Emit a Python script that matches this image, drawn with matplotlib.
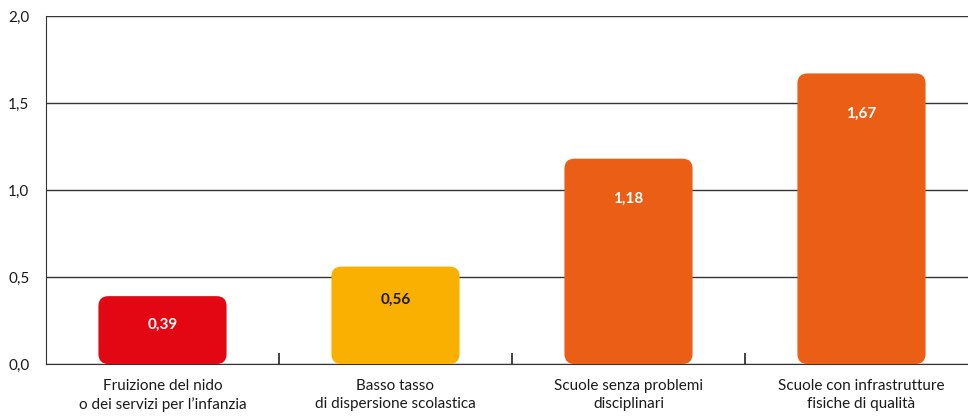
import numpy as np
import matplotlib
matplotlib.use('Agg')
from matplotlib import pyplot as plt
from matplotlib.patches import FancyBboxPatch

plt.rcParams['font.family'] = ['Lato', 'DejaVu Sans']

# data
categories = ['Fruizione del nido\no dei servizi per l\u2019infanzia',
              'Basso tasso\ndi dispersione scolastica',
              'Scuole senza problemi\ndisciplinari',
              'Scuole con infrastrutture\nfisiche di qualit\u00e0']
values = [0.39, 0.56, 1.18, 1.67]
value_labels = ['0,39', '0,56', '1,18', '1,67']
bar_colors = ['#E30613', '#F9B000', '#EB5E16', '#EB5E16']
label_colors = ['white', '#1a1a1a', 'white', 'white']
yticks = [0.0, 0.5, 1.0, 1.5, 2.0]
ytick_labels = ['0,0', '0,5', '1,0', '1,5', '2,0']

W, H = 968, 416
my_dpi = 100
ax_l, ax_r = 46, 978   # axes runs a bit past the right edge
ax_t, ax_b = 16, 364
fig = plt.figure(figsize=(W/my_dpi, H/my_dpi), dpi=my_dpi)
ax = fig.add_axes([ax_l/W, (H-ax_b)/H, (ax_r-ax_l)/W, (ax_b-ax_t)/H])

x = np.arange(len(categories))
bw = 0.55
bars = ax.bar(x, values, width=bw, color='none')
ax.set_xlim(-0.5, len(categories) - 0.5)
ax.set_ylim(0, 2.0)

# rounded bars
px_x = (ax_r - ax_l) / len(categories)
px_y = (ax_b - ax_t) / 2.0
r = 10 / px_x
for b, c in zip(bars, bar_colors):
    b.set_visible(False)
    p = FancyBboxPatch((b.get_x(), b.get_y()), b.get_width(), b.get_height(),
                       boxstyle='round,pad=0,rounding_size=%f' % r,
                       mutation_aspect=px_x/px_y, fc=c, ec='none', zorder=3)
    ax.add_patch(p)

for xi, v, lab, lc in zip(x, values, value_labels, label_colors):
    off = min(0.23, 0.1 + 0.16*v)
    ax.text(xi, v - off, lab, ha='center', va='center', color=lc,
            fontsize=11, fontweight='bold', zorder=4)

ax.set_yticks(yticks)
ax.set_yticklabels(ytick_labels, fontsize=11, color='#1a1a1a')
ax.yaxis.grid(True, color='#333333', lw=1)
ax.set_axisbelow(True)
ax.tick_params(axis='y', length=0, pad=12)

ax.set_xticks(x)
ax.set_xticklabels(categories, fontsize=11, color='#1a1a1a', linespacing=1.35)
ax.tick_params(axis='x', which='major', length=0, pad=11)
ax.set_xticks(x[:-1] + 0.5, minor=True)
ax.tick_params(axis='x', which='minor', direction='in', length=8, width=1.2, color='#222222')

for s in ['top', 'right']:
    ax.spines[s].set_visible(False)
ax.spines['left'].set_color('#333333')
ax.spines['bottom'].set_color('#333333')

fig.savefig('out.png', dpi=my_dpi)
